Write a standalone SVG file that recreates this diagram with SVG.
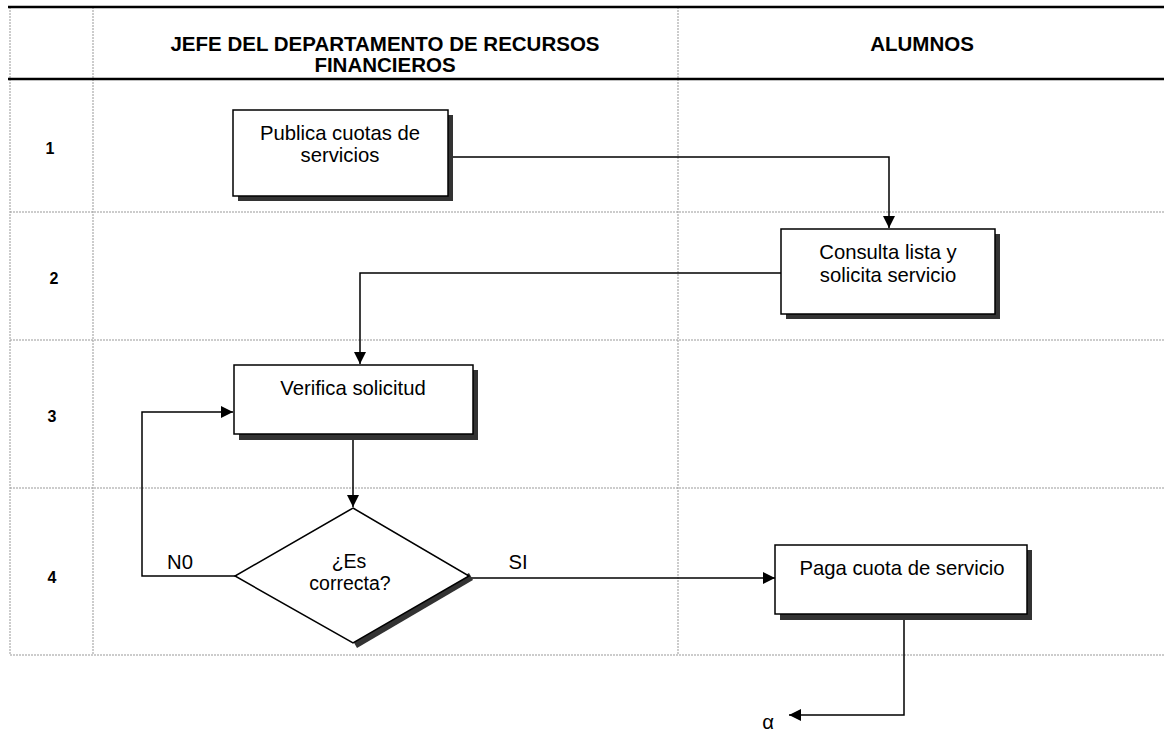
<svg xmlns="http://www.w3.org/2000/svg" width="1164" height="731" viewBox="0 0 1164 731">
<style>
.hdr{font-family:"Liberation Sans",Arial,sans-serif;font-weight:bold;font-size:20.5px;fill:#000}
.num{font-family:"Liberation Sans",Arial,sans-serif;font-weight:bold;font-size:16px;fill:#000}
.t{font-family:"Liberation Sans",Arial,sans-serif;font-size:20.3px;fill:#000}
.d{font-family:"Liberation Sans",Arial,sans-serif;font-size:19.5px;fill:#000}
.grid{stroke:#999;stroke-width:1;stroke-dasharray:2,1;fill:none}
.thick{stroke:#000;stroke-width:2.5;fill:none}
.box{fill:#fff;stroke:#000;stroke-width:1.5}
.shadow{fill:#333;stroke:none}
.conn{stroke:#000;stroke-width:1.5;fill:none}
</style>
<defs>
<marker id="ah" markerWidth="12" markerHeight="12" refX="12" refY="6" orient="auto" markerUnits="userSpaceOnUse">
<path d="M0,0 L12,6 L0,12 Z" fill="#000"/>
</marker>
</defs>
<rect width="1164" height="731" fill="#fff"/>
<g id="table">
<line class="grid" x1="10" y1="7" x2="10" y2="655"/>
<line class="grid" x1="93" y1="7" x2="93" y2="655"/>
<line class="grid" x1="678" y1="7" x2="678" y2="655"/>
<line class="grid" x1="10" y1="212" x2="1164" y2="212"/>
<line class="grid" x1="10" y1="340" x2="1164" y2="340"/>
<line class="grid" x1="10" y1="488" x2="1164" y2="488"/>
<line class="grid" x1="10" y1="655" x2="1164" y2="655"/>
<line class="thick" x1="8" y1="7" x2="1164" y2="7"/>
<line class="thick" x1="8" y1="79" x2="1164" y2="79"/>
<text class="hdr" x="385" y="51" text-anchor="middle">JEFE DEL DEPARTAMENTO DE RECURSOS</text>
<text class="hdr" x="385" y="72" text-anchor="middle">FINANCIEROS</text>
<text class="hdr" x="922" y="51" text-anchor="middle">ALUMNOS</text>
<text class="num" x="50" y="154" text-anchor="middle">1</text>
<text class="num" x="54" y="284" text-anchor="middle">2</text>
<text class="num" x="52" y="422" text-anchor="middle">3</text>
<text class="num" x="52" y="583" text-anchor="middle">4</text>
</g>
<g id="connectors">
<polyline class="conn" points="448,157 889,157 889,228" marker-end="url(#ah)"/>
<polyline class="conn" points="781,273 360,273 360,364" marker-end="url(#ah)"/>
<polyline class="conn" points="353,440 353,507" marker-end="url(#ah)"/>
<polyline class="conn" points="235,576 142,576 142,412 233,412" marker-end="url(#ah)"/>
<polyline class="conn" points="469,578 775,578" marker-end="url(#ah)"/>
<polyline class="conn" points="904,620 904,715 789,715" marker-end="url(#ah)"/>
<text class="t" x="180" y="569" text-anchor="middle">N0</text>
<text class="t" x="518" y="569" text-anchor="middle">SI</text>
<text class="t" x="768" y="729" text-anchor="middle">α</text>
</g>
<g id="n1">
<rect class="shadow" x="238" y="115" width="215" height="86"/>
<rect class="box" x="233" y="110" width="215" height="86"/>
<text class="t" x="340" y="140" text-anchor="middle">Publica cuotas de</text>
<text class="t" x="340" y="162" text-anchor="middle">servicios</text>
</g>
<g id="n2">
<rect class="shadow" x="786" y="234" width="214" height="85"/>
<rect class="box" x="781" y="229" width="214" height="85"/>
<text class="t" x="888" y="259" text-anchor="middle">Consulta lista y</text>
<text class="t" x="888" y="282" text-anchor="middle">solicita servicio</text>
</g>
<g id="n3">
<rect class="shadow" x="239" y="370" width="239" height="70"/>
<rect class="box" x="234" y="365" width="239" height="69"/>
<text class="t" x="353" y="395" text-anchor="middle">Verifica solicitud</text>
</g>
<g id="n4">
<polygon class="shadow" points="469,573 473,580 357,648 353,641"/>
<polygon class="box" points="353,508 469,576 353,643 235,576"/>
<text class="d" x="349" y="568" text-anchor="middle">¿Es</text>
<text class="d" x="350" y="590" text-anchor="middle">correcta?</text>
</g>
<g id="n5">
<rect class="shadow" x="780" y="550" width="252" height="70"/>
<rect class="box" x="775" y="545" width="252" height="69"/>
<text class="t" x="902" y="575" text-anchor="middle">Paga cuota de servicio</text>
</g>
</svg>
